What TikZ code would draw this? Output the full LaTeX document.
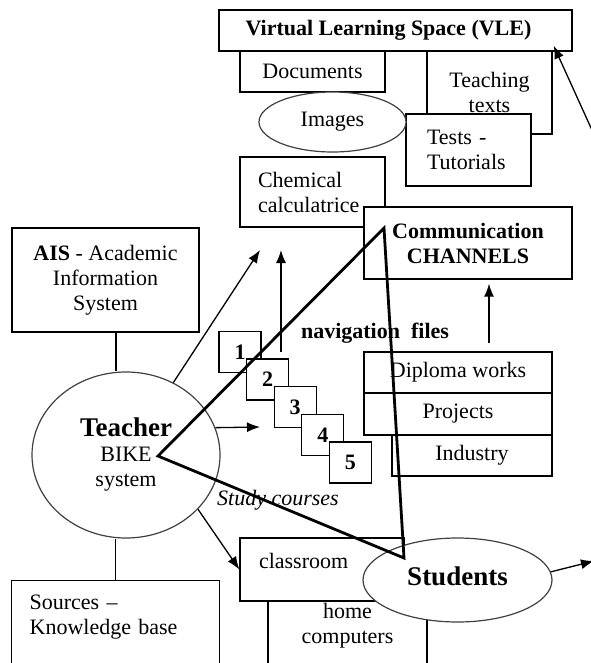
\documentclass[tikz,border=0pt]{standalone}
\usepackage{fontspec}
\setmainfont{Liberation Serif}
\usepackage{tikz}
\usetikzlibrary{positioning,calc,arrows.meta,shapes.geometric}

\newcommand{\bigbf}{\fontsize{27}{30}\selectfont\bfseries}
\AtBeginDocument{\fontsize{22}{25}\selectfont}

\begin{document}
\begin{tikzpicture}[x=1pt,y=-1pt,
box/.style={draw,fill=white,rectangle,line width=1.3pt,inner sep=0pt,align=center},
numbox/.style={box,minimum width=42pt,minimum height=41pt,font=\bfseries},
blob/.style={ellipse,draw=black!75,fill=white,line width=1.2pt,inner sep=0pt,align=center},
edge/.style={-{Latex[length=13pt,width=10pt]},line width=1.3pt},
link/.style={line width=1.3pt},
tri/.style={line width=2.8pt,line join=miter}]
\useasboundingbox (0,0) rectangle (590,663);

% VLE group
\node[box,minimum width=353pt,minimum height=41pt,font=\bfseries] (vle) at (395.5,30.5) {Virtual Learning Space (VLE)\hspace{14pt}};
\node[box,minimum width=125pt,minimum height=83pt] (teach) at (489.5,92.5) {Teaching\\texts};
\node[box,minimum width=145pt,minimum height=41pt] (docs) at (312.5,71.5) {Documents};
\node[box,text width=83pt,inner xsep=21pt,minimum height=72pt,align=left] (tests) at (468.5,150) {Tests -\\Tutorials};
\node[blob,minimum width=147pt,minimum height=60pt] (images) at (332.5,122) {Images};

% tools and channels
\node[box,text width=109pt,inner xsep=18pt,minimum height=70pt,align=left] (calc) at (312.5,192) {Chemical\\calculatrice};
\node[box,minimum width=208pt,minimum height=72pt,font=\bfseries] (comm) at (468,243) {Communication\\CHANNELS};
\node[box,minimum width=187pt,minimum height=104pt] (ais) at (105.5,280) {\textbf{AIS} - Academic\\Information\\System};

% navigation files
\node[numbox] (n1) at (240,352) {1};
\node[numbox] (n2) at ($(n1)+(27.6,27.6)$) {2};
\node[numbox] (n3) at ($(n2)+(27.6,27.6)$) {3};
\node[numbox] (n4) at ($(n3)+(27.6,27.6)$) {4};
\node[numbox] (n5) at ($(n4)+(27.6,27.6)$) {5};
\node[font=\bfseries] (nav) at (375,333) {navigation\ \ files};

% works
\node[box,minimum width=188pt,minimum height=41pt] (diploma) at (458,372.5) {Diploma works};
\node[box,minimum width=188pt,minimum height=42pt] (projects) at (458,414) {Projects};
\node[box,minimum width=160pt,minimum height=41pt] (industry) at (472,455.5) {Industry};

% teacher side
\node[blob,minimum width=188pt,minimum height=166pt] (teacher) at (126,455) {{\bigbf Teacher}\\BIKE\\system};
\node[box,anchor=north west,text width=172pt,inner xsep=18pt,inner ysep=14pt,text depth=51pt,align=left] (sources) at (11,580) {Sources --\\Knowledge base};
\node[font=\itshape] (study) at (278,500) {Study courses};

% students side
\node[box,anchor=north,minimum width=159pt,inner ysep=2pt,text depth=49pt] (home) at (347.5,601) {home\\computers};
\node[box,text width=126pt,inner xsep=19pt,minimum height=63pt,text depth=18pt,align=left] (class) at (322,569.5) {classroom};
\node[blob,minimum width=189pt,minimum height=84pt,text depth=8pt] (students) at (457.5,580) {\bigbf Students};

% free ends
\coordinate (calcIn) at (260,250);
\coordinate (upBot) at (281,352);
\coordinate (upTop) at (281,250);
\coordinate (navIn) at (260,427);
\coordinate (stuOut) at (594,561);
\coordinate (vleFrom) at (601,150);

% links
\draw[link] ([xshift=10.5pt]ais.south) -- ([xshift=10.5pt]ais.south |- teacher.north);
\draw[link] (sources.north) -- (sources.north |- teacher.south);

% arrows
\draw[edge] (teacher) -- (calcIn);
\draw[edge] (upBot) -- (upTop);
\draw[edge] (teacher.17) -- (navIn);
\draw[edge] (teacher.-37) -- (class.west);
\draw[edge,shorten <=8pt,shorten >=4pt] ([xshift=31pt]diploma.north) -- ([xshift=31pt]diploma.north |- comm.south);
\draw[edge] (students.5) -- (stuOut);
\draw[edge] (vleFrom) -- ([xshift=-19pt,yshift=6pt]vle.south east);

% triangle
\coordinate (triA) at (384,228);
\coordinate (triB) at (158,456);
\coordinate (triC) at (404,558);
\draw[tri] (triA) -- (triB) -- (triC) -- cycle;
\end{tikzpicture}
\end{document}
